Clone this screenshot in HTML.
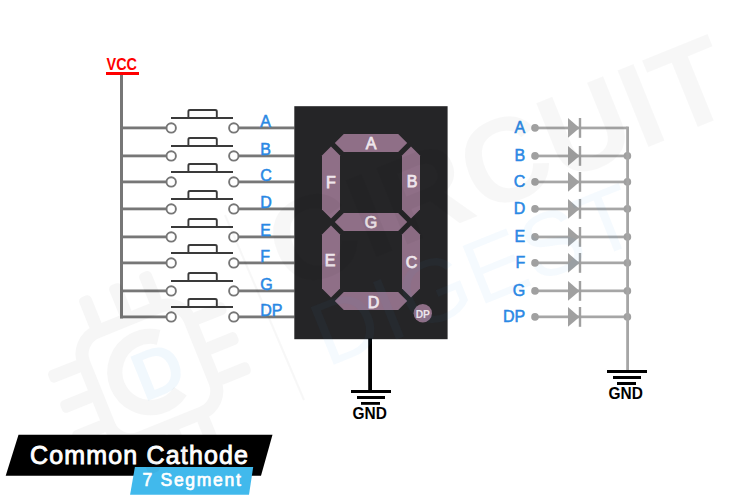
<!DOCTYPE html>
<html><head><meta charset="utf-8"><style>
html,body{margin:0;padding:0;background:#fff;width:750px;height:500px;overflow:hidden}
svg{display:block;font-family:"Liberation Sans",sans-serif}
</style></head><body>
<svg width="750" height="500" viewBox="0 0 750 500">
<g id="wm"></g>
<text x="106.5" y="70" font-size="16.5" font-weight="bold" fill="#ff0000" textLength="30.5" lengthAdjust="spacingAndGlyphs">VCC</text>
<rect x="106" y="72" width="33" height="3" fill="#ff0000"/>
<rect x="120" y="75" width="3" height="243.4" fill="#777"/>
<rect x="120" y="126.5" width="46.5" height="2.8" fill="#777"/>
<rect x="238.8" y="126.5" width="55.7" height="2.8" fill="#777"/>
<circle cx="171.2" cy="127.9" r="4.7" fill="#fff" stroke="#767676" stroke-width="1.9"/>
<circle cx="233.8" cy="127.9" r="4.7" fill="#fff" stroke="#767676" stroke-width="1.9"/>
<rect x="171" y="117.0" width="62" height="2" fill="#3a3a3a"/>
<path d="M188.4 118.0 V111.5 Q188.4 110.0 190 110.0 H215.2 Q216.8 110.0 216.8 111.5 V118.0" fill="none" stroke="#3a3a3a" stroke-width="1.9"/>
<text transform="translate(260.2 126.7) scale(0.97 1)" font-size="16.5" font-weight="normal" fill="#2a88e4" stroke="#2a88e4" stroke-width="0.55">A</text>
<text transform="translate(525.3 133.1) scale(0.97 1)" font-size="16.5" font-weight="normal" fill="#2a88e4" stroke="#2a88e4" stroke-width="0.55" text-anchor="end">A</text>
<rect x="535" y="126.6" width="92.6" height="2.7" fill="#a6a6a6"/>
<circle cx="535" cy="127.9" r="3.8" fill="#a0a0a0"/>
<path d="M568 118.0 L579.5 127.9 L568 137.8 Z" fill="#a0a0a0"/>
<rect x="578.8" y="118.0" width="2.4" height="19.8" fill="#a0a0a0"/>
<rect x="120" y="154.5" width="46.5" height="2.8" fill="#777"/>
<rect x="238.8" y="154.5" width="55.7" height="2.8" fill="#777"/>
<circle cx="171.2" cy="155.9" r="4.7" fill="#fff" stroke="#767676" stroke-width="1.9"/>
<circle cx="233.8" cy="155.9" r="4.7" fill="#fff" stroke="#767676" stroke-width="1.9"/>
<rect x="171" y="145.0" width="62" height="2" fill="#3a3a3a"/>
<path d="M188.4 146.0 V139.5 Q188.4 138.0 190 138.0 H215.2 Q216.8 138.0 216.8 139.5 V146.0" fill="none" stroke="#3a3a3a" stroke-width="1.9"/>
<text transform="translate(260.2 154.7) scale(0.97 1)" font-size="16.5" font-weight="normal" fill="#2a88e4" stroke="#2a88e4" stroke-width="0.55">B</text>
<text transform="translate(525.3 161.1) scale(0.97 1)" font-size="16.5" font-weight="normal" fill="#2a88e4" stroke="#2a88e4" stroke-width="0.55" text-anchor="end">B</text>
<rect x="535" y="154.6" width="92.6" height="2.7" fill="#a6a6a6"/>
<circle cx="535" cy="155.9" r="3.8" fill="#a0a0a0"/>
<path d="M568 146.0 L579.5 155.9 L568 165.8 Z" fill="#a0a0a0"/>
<rect x="578.8" y="146.0" width="2.4" height="19.8" fill="#a0a0a0"/>
<circle cx="627.4" cy="155.9" r="3.8" fill="#a0a0a0"/>
<rect x="120" y="180.5" width="46.5" height="2.8" fill="#777"/>
<rect x="238.8" y="180.5" width="55.7" height="2.8" fill="#777"/>
<circle cx="171.2" cy="181.9" r="4.7" fill="#fff" stroke="#767676" stroke-width="1.9"/>
<circle cx="233.8" cy="181.9" r="4.7" fill="#fff" stroke="#767676" stroke-width="1.9"/>
<rect x="171" y="171.0" width="62" height="2" fill="#3a3a3a"/>
<path d="M188.4 172.0 V165.5 Q188.4 164.0 190 164.0 H215.2 Q216.8 164.0 216.8 165.5 V172.0" fill="none" stroke="#3a3a3a" stroke-width="1.9"/>
<text transform="translate(260.2 180.7) scale(0.97 1)" font-size="16.5" font-weight="normal" fill="#2a88e4" stroke="#2a88e4" stroke-width="0.55">C</text>
<text transform="translate(525.3 187.1) scale(0.97 1)" font-size="16.5" font-weight="normal" fill="#2a88e4" stroke="#2a88e4" stroke-width="0.55" text-anchor="end">C</text>
<rect x="535" y="180.6" width="92.6" height="2.7" fill="#a6a6a6"/>
<circle cx="535" cy="181.9" r="3.8" fill="#a0a0a0"/>
<path d="M568 172.0 L579.5 181.9 L568 191.8 Z" fill="#a0a0a0"/>
<rect x="578.8" y="172.0" width="2.4" height="19.8" fill="#a0a0a0"/>
<circle cx="627.4" cy="181.9" r="3.8" fill="#a0a0a0"/>
<rect x="120" y="207.5" width="46.5" height="2.8" fill="#777"/>
<rect x="238.8" y="207.5" width="55.7" height="2.8" fill="#777"/>
<circle cx="171.2" cy="208.9" r="4.7" fill="#fff" stroke="#767676" stroke-width="1.9"/>
<circle cx="233.8" cy="208.9" r="4.7" fill="#fff" stroke="#767676" stroke-width="1.9"/>
<rect x="171" y="198.0" width="62" height="2" fill="#3a3a3a"/>
<path d="M188.4 199.0 V192.5 Q188.4 191.0 190 191.0 H215.2 Q216.8 191.0 216.8 192.5 V199.0" fill="none" stroke="#3a3a3a" stroke-width="1.9"/>
<text transform="translate(260.2 207.7) scale(0.97 1)" font-size="16.5" font-weight="normal" fill="#2a88e4" stroke="#2a88e4" stroke-width="0.55">D</text>
<text transform="translate(525.3 214.1) scale(0.97 1)" font-size="16.5" font-weight="normal" fill="#2a88e4" stroke="#2a88e4" stroke-width="0.55" text-anchor="end">D</text>
<rect x="535" y="207.6" width="92.6" height="2.7" fill="#a6a6a6"/>
<circle cx="535" cy="208.9" r="3.8" fill="#a0a0a0"/>
<path d="M568 199.0 L579.5 208.9 L568 218.8 Z" fill="#a0a0a0"/>
<rect x="578.8" y="199.0" width="2.4" height="19.8" fill="#a0a0a0"/>
<circle cx="627.4" cy="208.9" r="3.8" fill="#a0a0a0"/>
<rect x="120" y="235.5" width="46.5" height="2.8" fill="#777"/>
<rect x="238.8" y="235.5" width="55.7" height="2.8" fill="#777"/>
<circle cx="171.2" cy="236.9" r="4.7" fill="#fff" stroke="#767676" stroke-width="1.9"/>
<circle cx="233.8" cy="236.9" r="4.7" fill="#fff" stroke="#767676" stroke-width="1.9"/>
<rect x="171" y="226.0" width="62" height="2" fill="#3a3a3a"/>
<path d="M188.4 227.0 V220.5 Q188.4 219.0 190 219.0 H215.2 Q216.8 219.0 216.8 220.5 V227.0" fill="none" stroke="#3a3a3a" stroke-width="1.9"/>
<text transform="translate(260.2 235.7) scale(0.97 1)" font-size="16.5" font-weight="normal" fill="#2a88e4" stroke="#2a88e4" stroke-width="0.55">E</text>
<text transform="translate(525.3 242.1) scale(0.97 1)" font-size="16.5" font-weight="normal" fill="#2a88e4" stroke="#2a88e4" stroke-width="0.55" text-anchor="end">E</text>
<rect x="535" y="235.6" width="92.6" height="2.7" fill="#a6a6a6"/>
<circle cx="535" cy="236.9" r="3.8" fill="#a0a0a0"/>
<path d="M568 227.0 L579.5 236.9 L568 246.8 Z" fill="#a0a0a0"/>
<rect x="578.8" y="227.0" width="2.4" height="19.8" fill="#a0a0a0"/>
<circle cx="627.4" cy="236.9" r="3.8" fill="#a0a0a0"/>
<rect x="120" y="261.5" width="46.5" height="2.8" fill="#777"/>
<rect x="238.8" y="261.5" width="55.7" height="2.8" fill="#777"/>
<circle cx="171.2" cy="262.9" r="4.7" fill="#fff" stroke="#767676" stroke-width="1.9"/>
<circle cx="233.8" cy="262.9" r="4.7" fill="#fff" stroke="#767676" stroke-width="1.9"/>
<rect x="171" y="252.0" width="62" height="2" fill="#3a3a3a"/>
<path d="M188.4 253.0 V246.5 Q188.4 245.0 190 245.0 H215.2 Q216.8 245.0 216.8 246.5 V253.0" fill="none" stroke="#3a3a3a" stroke-width="1.9"/>
<text transform="translate(260.2 261.7) scale(0.97 1)" font-size="16.5" font-weight="normal" fill="#2a88e4" stroke="#2a88e4" stroke-width="0.55">F</text>
<text transform="translate(525.3 268.1) scale(0.97 1)" font-size="16.5" font-weight="normal" fill="#2a88e4" stroke="#2a88e4" stroke-width="0.55" text-anchor="end">F</text>
<rect x="535" y="261.5" width="92.6" height="2.7" fill="#a6a6a6"/>
<circle cx="535" cy="262.9" r="3.8" fill="#a0a0a0"/>
<path d="M568 253.0 L579.5 262.9 L568 272.8 Z" fill="#a0a0a0"/>
<rect x="578.8" y="253.0" width="2.4" height="19.8" fill="#a0a0a0"/>
<circle cx="627.4" cy="262.9" r="3.8" fill="#a0a0a0"/>
<rect x="120" y="289.5" width="46.5" height="2.8" fill="#777"/>
<rect x="238.8" y="289.5" width="55.7" height="2.8" fill="#777"/>
<circle cx="171.2" cy="290.9" r="4.7" fill="#fff" stroke="#767676" stroke-width="1.9"/>
<circle cx="233.8" cy="290.9" r="4.7" fill="#fff" stroke="#767676" stroke-width="1.9"/>
<rect x="171" y="280.0" width="62" height="2" fill="#3a3a3a"/>
<path d="M188.4 281.0 V274.5 Q188.4 273.0 190 273.0 H215.2 Q216.8 273.0 216.8 274.5 V281.0" fill="none" stroke="#3a3a3a" stroke-width="1.9"/>
<text transform="translate(260.2 289.7) scale(0.97 1)" font-size="16.5" font-weight="normal" fill="#2a88e4" stroke="#2a88e4" stroke-width="0.55">G</text>
<text transform="translate(525.3 296.1) scale(0.97 1)" font-size="16.5" font-weight="normal" fill="#2a88e4" stroke="#2a88e4" stroke-width="0.55" text-anchor="end">G</text>
<rect x="535" y="289.5" width="92.6" height="2.7" fill="#a6a6a6"/>
<circle cx="535" cy="290.9" r="3.8" fill="#a0a0a0"/>
<path d="M568 281.0 L579.5 290.9 L568 300.8 Z" fill="#a0a0a0"/>
<rect x="578.8" y="281.0" width="2.4" height="19.8" fill="#a0a0a0"/>
<circle cx="627.4" cy="290.9" r="3.8" fill="#a0a0a0"/>
<rect x="120" y="315.5" width="46.5" height="2.8" fill="#777"/>
<rect x="238.8" y="315.5" width="55.7" height="2.8" fill="#777"/>
<circle cx="171.2" cy="316.9" r="4.7" fill="#fff" stroke="#767676" stroke-width="1.9"/>
<circle cx="233.8" cy="316.9" r="4.7" fill="#fff" stroke="#767676" stroke-width="1.9"/>
<rect x="171" y="306.0" width="62" height="2" fill="#3a3a3a"/>
<path d="M188.4 307.0 V300.5 Q188.4 299.0 190 299.0 H215.2 Q216.8 299.0 216.8 300.5 V307.0" fill="none" stroke="#3a3a3a" stroke-width="1.9"/>
<text transform="translate(260.2 315.7) scale(0.97 1)" font-size="16.5" font-weight="normal" fill="#2a88e4" stroke="#2a88e4" stroke-width="0.55">DP</text>
<text transform="translate(525.3 322.1) scale(0.97 1)" font-size="16.5" font-weight="normal" fill="#2a88e4" stroke="#2a88e4" stroke-width="0.55" text-anchor="end">DP</text>
<rect x="535" y="315.5" width="92.6" height="2.7" fill="#a6a6a6"/>
<circle cx="535" cy="316.9" r="3.8" fill="#a0a0a0"/>
<path d="M568 307.0 L579.5 316.9 L568 326.8 Z" fill="#a0a0a0"/>
<rect x="578.8" y="307.0" width="2.4" height="19.8" fill="#a0a0a0"/>
<circle cx="627.4" cy="316.9" r="3.8" fill="#a0a0a0"/>
<rect x="626.2" y="126.6" width="2.8" height="243.4" fill="#a6a6a6"/>
<rect x="294.3" y="106.2" width="153.3" height="233" fill="#252527"/>
<path d="M334.8 143.0 L343.8 134.0 H398.2 L407.2 143.0 L398.2 152.0 H343.8 Z" fill="#8f6f87"/>
<path d="M334.8 222.0 L343.8 213.0 H398.2 L407.2 222.0 L398.2 231.0 H343.8 Z" fill="#8f6f87"/>
<path d="M334.8 301.0 L343.8 292.0 H398.2 L407.2 301.0 L398.2 310.0 H343.8 Z" fill="#8f6f87"/>
<path d="M331.0 146.5 L340.0 155.5 V209.5 L331.0 218.5 L322.0 209.5 V155.5 Z" fill="#8f6f87"/>
<path d="M411.0 146.5 L420.0 155.5 V209.5 L411.0 218.5 L402.0 209.5 V155.5 Z" fill="#8f6f87"/>
<path d="M331.0 225.5 L340.0 234.5 V288.5 L331.0 297.5 L322.0 288.5 V234.5 Z" fill="#8f6f87"/>
<path d="M411.0 225.5 L420.0 234.5 V288.5 L411.0 297.5 L402.0 288.5 V234.5 Z" fill="#8f6f87"/>
<text x="371.0" y="148.9" font-size="16" font-weight="normal" fill="#efe6ec" stroke="#efe6ec" stroke-width="0.75" text-anchor="middle">A</text>
<text x="331.0" y="187.9" font-size="16" font-weight="normal" fill="#efe6ec" stroke="#efe6ec" stroke-width="0.75" text-anchor="middle">F</text>
<text x="412.0" y="186.9" font-size="16" font-weight="normal" fill="#efe6ec" stroke="#efe6ec" stroke-width="0.75" text-anchor="middle">B</text>
<text x="371.0" y="227.9" font-size="16" font-weight="normal" fill="#efe6ec" stroke="#efe6ec" stroke-width="0.75" text-anchor="middle">G</text>
<text x="330.0" y="265.9" font-size="16" font-weight="normal" fill="#efe6ec" stroke="#efe6ec" stroke-width="0.75" text-anchor="middle">E</text>
<text x="411.5" y="267.9" font-size="16" font-weight="normal" fill="#efe6ec" stroke="#efe6ec" stroke-width="0.75" text-anchor="middle">C</text>
<text x="373.5" y="308.4" font-size="16" font-weight="normal" fill="#efe6ec" stroke="#efe6ec" stroke-width="0.75" text-anchor="middle">D</text>
<circle cx="422.8" cy="313.2" r="9.2" fill="#8f6f87"/>
<text x="422.8" y="317.6" font-size="10.3" font-weight="bold" fill="#efe6ec" text-anchor="middle">DP</text>
<rect x="368.2" y="338.5" width="3.8" height="52" fill="#000"/>
<rect x="351" y="390" width="40" height="3" fill="#000"/>
<rect x="357" y="396" width="28" height="3" fill="#000"/>
<rect x="361" y="402" width="19" height="2.8" fill="#000"/>
<text x="352.5" y="419" font-size="17" font-weight="bold" fill="#000" textLength="34.3" lengthAdjust="spacingAndGlyphs">GND</text>
<rect x="607" y="370" width="40" height="3" fill="#000"/>
<rect x="613" y="376" width="28" height="3" fill="#000"/>
<rect x="617" y="382" width="19" height="3" fill="#000"/>
<text x="608.5" y="399" font-size="17" font-weight="bold" fill="#000" textLength="34.3" lengthAdjust="spacingAndGlyphs">GND</text>
<path d="M18.5 434.8 H272.5 L261 475.8 H5.7 Z" fill="#000"/>
<text x="30" y="463.5" font-size="25" font-weight="normal" fill="#fff" stroke="#fff" stroke-width="0.9" textLength="218" lengthAdjust="spacing">Common Cathode</text>
<path d="M134.9 467 H253.2 L249 494.7 H130.1 Z" fill="#41b9ec"/>
<text x="142.4" y="486" font-size="17.5" font-weight="normal" fill="#fff" stroke="#fff" stroke-width="0.7" textLength="98.5" lengthAdjust="spacing">7 Segment</text>
<line x1="225" y1="215" x2="304" y2="400" stroke="#000" stroke-opacity="0.03" stroke-width="2.2"/>
<g transform="translate(375 250) rotate(-22)">
<text x="-96" y="7" font-size="120" font-weight="bold" fill="#000" fill-opacity="0.032">CIRCUIT</text>
</g>
<defs><clipPath id="cin"><rect x="294.3" y="106.2" width="153.3" height="233"/></clipPath><clipPath id="cout"><path clip-rule="evenodd" d="M0 0H750V500H0Z M294.3 106.2H447.6V339.2H294.3Z"/></clipPath></defs>
<g clip-path="url(#cout)"><g transform="translate(375 250) rotate(-22)"><text x="-88.5" y="91" letter-spacing="1.3" font-size="90" fill="#3a9be8" fill-opacity="0.05">DIGEST</text></g></g>
<g clip-path="url(#cin)"><g transform="translate(375 250) rotate(-22)"><text x="-88.5" y="91" letter-spacing="1.3" font-size="90" fill="#3a9be8" fill-opacity="0.045">DIGEST</text></g></g>
<g transform="translate(375 250) rotate(-22)">
<g transform="translate(-255 29) scale(1.08)">
<g opacity="0.032">
<rect x="-53" y="-53" width="106" height="106" rx="22" fill="none" stroke="#000" stroke-width="12"/>
<rect x="-36" y="-88" width="12" height="32" rx="4" fill="#000"/>
<rect x="-36" y="56" width="12" height="32" rx="4" fill="#000"/>
<rect x="-88" y="-36" width="32" height="12" rx="4" fill="#000"/>
<rect x="56" y="-36" width="32" height="12" rx="4" fill="#000"/>
<rect x="-6" y="-88" width="12" height="32" rx="4" fill="#000"/>
<rect x="-6" y="56" width="12" height="32" rx="4" fill="#000"/>
<rect x="-88" y="-6" width="32" height="12" rx="4" fill="#000"/>
<rect x="56" y="-6" width="32" height="12" rx="4" fill="#000"/>
<rect x="24" y="-88" width="12" height="32" rx="4" fill="#000"/>
<rect x="24" y="56" width="12" height="32" rx="4" fill="#000"/>
<rect x="-88" y="24" width="32" height="12" rx="4" fill="#000"/>
<rect x="56" y="24" width="32" height="12" rx="4" fill="#000"/>
<path d="M20 -27 A33 33 0 1 0 20 27" fill="none" stroke="#000" stroke-width="14"/>
</g>
<text x="8" y="24" font-size="64" font-weight="bold" fill="#3a9be8" fill-opacity="0.07" text-anchor="middle">D</text>
</g>
</g>
</svg>
</body></html>
